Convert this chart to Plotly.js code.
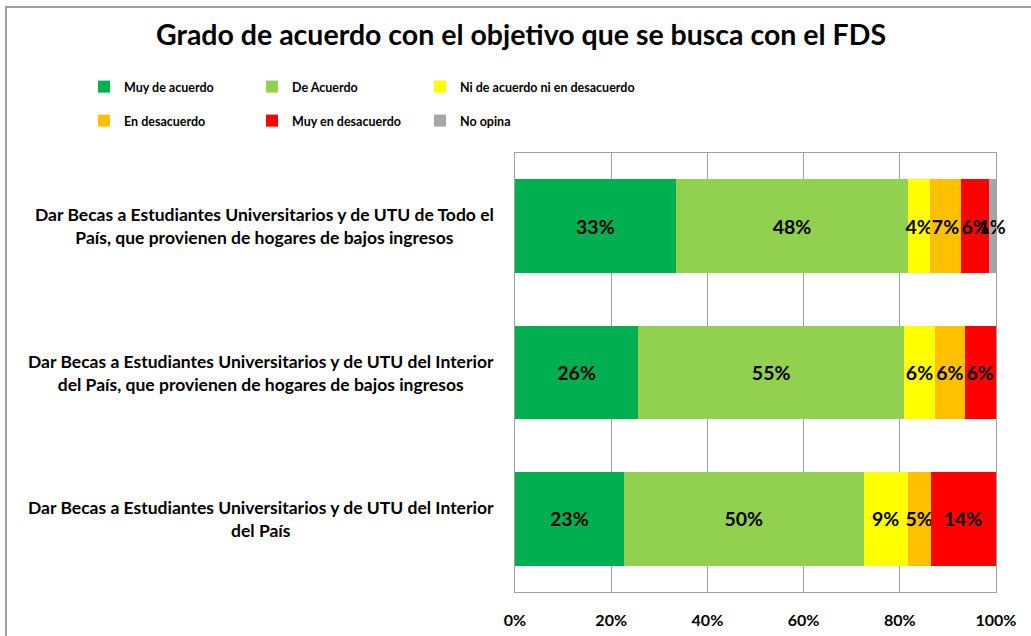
<!DOCTYPE html>
<html>
<head>
<meta charset="utf-8">
<script src="https://cdn.plot.ly/plotly-3.0.1.min.js"></script>
<style>
  html, body { margin: 0; padding: 0; background: #ffffff; }
  #chart { width: 1031px; height: 636px; }
</style>
</head>
<body>
<div id="chart"></div>
<script>
// Categories (top to bottom)
const categories = [
  "Dar Becas a Estudiantes Universitarios y de UTU de Todo el<br>País, que provienen de hogares de bajos ingresos",
  "Dar Becas a Estudiantes Universitarios y de UTU del Interior<br>del País, que provienen de hogares de bajos ingresos",
  "Dar Becas a Estudiantes Universitarios y de UTU del Interior<br>del País"
];
const categoryIds = ["todo", "interior_bajos", "interior"];

// Series names
const seriesNames = [
  "Muy de acuerdo",
  "De Acuerdo",
  "Ni de acuerdo ni en desacuerdo",
  "En desacuerdo",
  "Muy en desacuerdo",
  "No opina"
];

// Series values (%), one value per category
const muyDeAcuerdo    = [33.4, 25.6, 22.6];
const deAcuerdo       = [48.4, 55.3, 49.9];
const niNi            = [4.4, 6.4, 9.1];
const enDesacuerdo    = [6.6, 6.2, 4.8];
const muyEnDesacuerdo = [5.7, 6.4, 13.5];
const noOpina         = [1.4, null, null];

const seriesValues = [muyDeAcuerdo, deAcuerdo, niNi, enDesacuerdo, muyEnDesacuerdo, noOpina];
const seriesColors = ["#00B050", "#92D050", "#FFFF00", "#FFC000", "#FF0000", "#A6A6A6"];

const tickVals = [0, 20, 40, 60, 80, 100];
const tickText = ["0%", "20%", "40%", "60%", "80%", "100%"];

const FONT = "Lato, 'Open Sans', sans-serif";

const legendIds = ["legend", "legend2", "legend3", "legend4", "legend5", "legend6"];

const traces = seriesNames.map((name, i) => ({
  type: "bar",
  orientation: "h",
  name: name,
  y: categoryIds,
  x: seriesValues[i],
  marker: { color: seriesColors[i], line: { width: 0 } },
  texttemplate: "%{x:.0f}%",
  textposition: "inside",
  insidetextanchor: "middle",
  textangle: 0,
  constraintext: "none",
  cliponaxis: false,
  textfont: { family: FONT, size: 19.5, color: "#000000", weight: "bold" },
  hoverinfo: "name+x",
  legend: legendIds[i]
}));

const L = 515, R = 35, T = 153, B = 44;
const W = 1031, H = 636;
const pw = W - L - R, ph = H - T - B;
const px2x = p => (p - L) / pw;
const py2y = p => 1 - (p - T) / ph;

const annotations = categories.map((c, i) => ({
  xref: "paper", yref: "y",
  x: px2x(496), y: categoryIds[i],
  xanchor: "right", yanchor: "middle",
  align: "center",
  text: "<b>" + c + "</b>",
  showarrow: false,
  font: { family: FONT, size: 17.5, color: "#000000" }
}));

const legendXs = [84, 252, 420, 84, 252, 420];
const legendYs = [87, 87, 87, 121, 121, 121];

const layout = {
  width: W, height: H,
  margin: { l: L, r: R, t: T, b: B, pad: 0 },
  paper_bgcolor: "#ffffff",
  plot_bgcolor: "#ffffff",
  barmode: "stack",
  bargap: 0.36,
  title: {
    text: "<b>Grado de acuerdo con el objetivo que se busca con el FDS</b>",
    x: px2x(521), xref: "paper", xanchor: "center",
    y: 1 - 35 / H, yref: "container", yanchor: "middle",
    font: { family: FONT, size: 28.5, color: "#000000" }
  },
  showlegend: true,
  xaxis: {
    range: [0, 100],
    tickvals: tickVals,
    ticktext: tickText,
    showgrid: true,
    gridcolor: "#A0A0A0",
    gridwidth: 1,
    zeroline: false,
    showline: true,
    linecolor: "#A0A0A0",
    linewidth: 1,
    mirror: true,
    ticks: "",
    tickfont: { family: FONT, size: 16, color: "#000000", weight: "bold" },
    ticklabelstandoff: 14,
    fixedrange: true
  },
  yaxis: {
    type: "category",
    autorange: "reversed",
    showticklabels: false,
    showgrid: false,
    zeroline: false,
    showline: true,
    linecolor: "#A0A0A0",
    linewidth: 1,
    mirror: true,
    ticks: "",
    fixedrange: true
  },
  annotations: annotations,
  shapes: [{
    type: "path",
    xref: "paper", yref: "paper",
    path: "M " + px2x(6) + " " + py2y(640) + " L " + px2x(6) + " " + py2y(7) + " L " + px2x(1035) + " " + py2y(7),
    line: { color: "#A0A0A0", width: 2 },
    layer: "above"
  }]
};

legendIds.forEach((id, i) => {
  layout[id] = {
    orientation: "h",
    x: px2x(legendXs[i]),
    y: py2y(legendYs[i]),
    xanchor: "left",
    yanchor: "middle",
    font: { family: FONT, size: 12.5, color: "#000000", weight: "bold" },
    bgcolor: "rgba(0,0,0,0)",
    itemclick: false,
    itemdoubleclick: false
  };
});

Plotly.newPlot("chart", traces, layout, { displayModeBar: false, responsive: false });
</script>
</body>
</html>
